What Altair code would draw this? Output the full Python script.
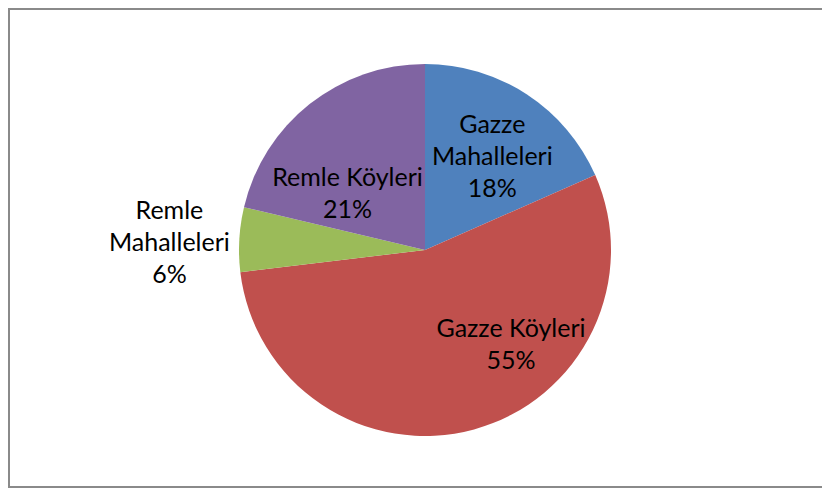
import altair as alt
import pandas as pd

categories = ["Gazze Mahalleleri", "Gazze Köyleri", "Remle Mahalleleri", "Remle Köyleri"]
shares = [18.4, 54.7, 5.6, 21.3]
label_lines = [["Gazze", "Mahalleleri"], ["Gazze Köyleri"], ["Remle", "Mahalleleri"], ["Remle Köyleri"]]
colors = ["#4F81BD", "#C0504D", "#9BBB59", "#8064A2"]

df = pd.DataFrame({
    "cat": categories,
    "share": shares,
    "order": list(range(len(categories))),
    "label": ["\n".join(lines + [f"{round(s):.0f}%"]) for lines, s in zip(label_lines, shares)],
})

W, H = 814, 480
CX, CY = 417, 242
R = 186

base = alt.Chart(df)
one = alt.Chart(pd.DataFrame({"f": [0]}))
frame_style = dict(stroke="#8a8a8a", strokeWidth=2)
frame_top = one.mark_rule(**frame_style).encode(
    x=alt.value(0), x2=alt.value(W), y=alt.value(1))
frame_bottom = one.mark_rule(**frame_style).encode(
    x=alt.value(0), x2=alt.value(W), y=alt.value(H - 1))
frame_left = one.mark_rule(**frame_style).encode(
    x=alt.value(1), y=alt.value(0), y2=alt.value(H))

pie = base.mark_arc(radius=R, x=CX, y=CY, stroke=None).encode(
    theta=alt.Theta("share:Q", stack=True),
    order=alt.Order("order:Q"),
    color=alt.Color("cat:N", scale=alt.Scale(domain=categories, range=colors), legend=None),
)

# label placement (style): radius and offsets per category
label_style = {
    "Gazze Mahalleleri": dict(r=125, dx=-1, dy=-20),
    "Gazze Köyleri": dict(r=125, dx=53, dy=-42),
    "Remle Mahalleleri": dict(r=255, dx=-1, dy=-25),
    "Remle Köyleri": dict(r=125, dx=0, dy=26),
}

mid = base.transform_joinaggregate(total="sum(share)").transform_window(
    cum="sum(share)", sort=[alt.SortField("order")]
).transform_calculate(
    mid_theta="(datum.cum - datum.share/2) / datum.total * 2 * PI"
)

layers = [frame_top, frame_bottom, frame_left, pie]
for c in categories:
    st = label_style[c]
    layers.append(
        mid.transform_filter(alt.datum.cat == c).mark_text(
            radius=st["r"], x=CX, y=CY, dx=st["dx"], dy=st["dy"],
            font="Lato", fontSize=25, lineHeight=32, lineBreak="\n",
            align="center", baseline="middle", color="black",
        ).encode(
            theta=alt.Theta("mid_theta:Q", scale=None),
            text="label:N",
        )
    )

chart = alt.layer(*layers).properties(
    width=W, height=H,
    padding={"left": 0, "top": 0, "right": 0, "bottom": 0},
    autosize=alt.AutoSizeParams(type="none"),
).configure_view(stroke=None)

chart.save("out.html", embed_options={"renderer": "svg", "actions": False})
